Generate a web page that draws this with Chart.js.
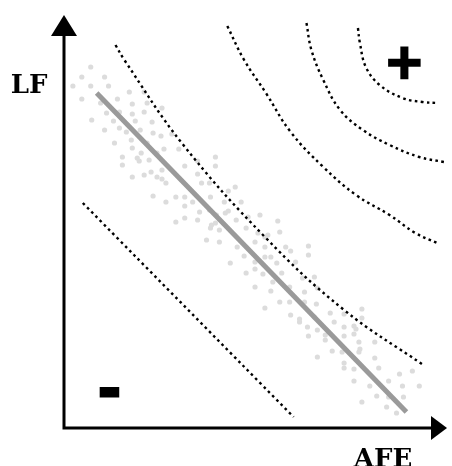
<!DOCTYPE html>
<html>
<head>
<meta charset="utf-8">
<script src="https://cdn.jsdelivr.net/npm/chart.js@4/dist/chart.umd.min.js"></script>
<style>
  body { margin: 0; background: #fff; }
  canvas { display: block; }
</style>
</head>
<body>
<canvas id="chart" width="452" height="466"></canvas>
<script>
// axis ranges (arbitrary units, origin at the axes corner)
const afeMax = 388;
const lfMax = 413;

// scattered observations
const pointAfe = [27, 18, 41, 9, 27, 45, 18, 37, 54, 66, 69, 81, 84, 99, 43, 56, 69, 81, 28, 50, 72, 89, 41, 56, 63, 77, 90, 98, 109, 51, 68, 84, 101, 116, 69, 78, 59, 74, 86, 76, 94, 59, 69, 81, 88, 99, 94,
  153, 122, 135, 153, 99, 103, 135, 139, 147, 166, 173, 90, 103, 113, 122, 130, 148, 162, 179, 122, 137, 147, 154, 166, 163, 198, 113, 122, 135, 149, 153, 148, 157, 174, 186, 184, 196, 144, 157, 175, 193, 203,
  216, 206, 218, 203, 224, 229, 247, 247, 182, 203, 209, 168, 193, 193, 215, 234, 220, 241, 253, 184, 201, 211, 193, 228, 209, 243, 256, 218, 228, 243, 255, 203, 229, 238, 238, 253, 269, 283, 273, 246, 256, 283, 247, 264,
  301, 301, 293, 295, 264, 283, 293, 298, 314, 271, 281, 299, 298, 256, 314, 283, 283, 293, 318, 339, 352, 293, 309, 328, 342, 359, 316, 328, 343, 301, 326, 336];
const pointLf = [361, 351, 351, 342, 342, 342, 329, 325, 329, 336, 324, 336, 325, 320, 315, 316, 314, 316, 308, 307, 307, 306, 298, 300, 296, 298, 295, 292, 294, 285, 288, 285, 279, 279, 280, 275, 271, 270, 268, 267, 275, 263, 251, 253, 256, 258, 251,
  271, 262, 267, 262, 249, 245, 254, 245, 245, 237, 241, 232, 226, 231, 231, 226, 231, 226, 226, 222, 216, 218, 213, 217, 215, 213, 206, 210, 208, 203, 205, 200, 198, 208, 211, 200, 195, 188, 186, 181, 186, 191,
  207, 193, 196, 181, 181, 177, 182, 173, 172, 171, 171, 165, 166, 159, 165, 166, 155, 150, 151, 155, 154, 146, 141, 141, 137, 136, 140, 126, 126, 126, 124, 120, 113, 109, 106, 111, 115, 114, 106, 101, 98, 101, 92, 93,
  119, 110, 102, 99, 88, 92, 94, 86, 86, 77, 76, 79, 76, 71, 70, 65, 60, 59, 60, 54, 57, 47, 42, 47, 42, 42, 32, 31, 31, 26, 21, 15];

// fitted trend
const fitAfe = [33, 346];
const fitLf = [335, 16];

// dotted iso-lines, from lowest to highest
const iso1Afe = [19, 232];
const iso1Lf = [225, 11];
const iso2Afe = [52, 61, 119, 203, 283, 363];
const iso2Lf = [383, 368, 285, 191, 118, 63];
const iso3Afe = [165, 182, 204, 229, 262, 295, 329, 355, 377];
const iso3Lf = [402, 368, 335, 296, 261, 233, 213, 195, 185];
const iso4Afe = [245, 250, 262, 279, 302, 329, 359, 384];
const iso4Lf = [405, 378, 348, 318, 298, 283, 271, 266];
const iso5Afe = [297, 299, 305, 319, 342, 362, 377];
const iso5Lf = [400, 385, 361, 343, 330, 326, 325];

// region markers
const plusPos = [344, 362];
const minusPos = [46, 34];

const titleFont = 'bold 26px "DejaVu Serif", serif';

function toPoints(xs, ys) {
  return xs.map((x, i) => ({ x: x, y: ys[i] }));
}

function isoLine(xs, ys) {
  return {
    data: toPoints(xs, ys),
    showLine: true,
    borderColor: '#000',
    borderWidth: 2.4,
    borderDash: [2.6, 3.4],
    borderCapStyle: 'butt',
    tension: 0.4,
    pointRadius: 0,
    order: 2
  };
}

function drawArrow(ctx, tipX, tipY, dir) {
  ctx.beginPath();
  if (dir === 'up') {
    ctx.moveTo(tipX, tipY);
    ctx.lineTo(tipX - 13, tipY + 21);
    ctx.lineTo(tipX + 13, tipY + 21);
  } else {
    ctx.moveTo(tipX, tipY);
    ctx.lineTo(tipX - 16, tipY - 12);
    ctx.lineTo(tipX - 16, tipY + 12);
  }
  ctx.closePath();
  ctx.fill();
}

const axesPlugin = {
  id: 'axesPlugin',
  afterDatasetsDraw(chart) {
    const { ctx, scales } = chart;
    const x0 = scales.x.getPixelForValue(0);
    const y0 = scales.y.getPixelForValue(0);
    const xEnd = scales.x.getPixelForValue(afeMax);
    const yEnd = scales.y.getPixelForValue(lfMax);

    ctx.save();
    ctx.strokeStyle = '#000';
    ctx.fillStyle = '#000';
    ctx.lineWidth = 3;
    ctx.beginPath();
    ctx.moveTo(x0, yEnd + 20);
    ctx.lineTo(x0, y0);
    ctx.lineTo(xEnd - 15, y0);
    ctx.stroke();
    drawArrow(ctx, x0, yEnd, 'up');
    drawArrow(ctx, xEnd - 1, y0, 'right');

    // axis titles
    ctx.font = titleFont;
    ctx.textAlign = 'center';
    ctx.textBaseline = 'alphabetic';
    ctx.fillText('LF', x0 - 35, yEnd + 78);
    ctx.fillText('AFE', xEnd - 65, y0 + 39);

    // plus / minus markers
    ctx.textBaseline = 'middle';
    ctx.lineWidth = 2.5;
    ctx.font = 'bold 48px "DejaVu Sans", sans-serif';
    const px = scales.x.getPixelForValue(plusPos[0]);
    const py = scales.y.getPixelForValue(plusPos[1]);
    ctx.fillText('+', px, py);
    ctx.strokeText('+', px, py);
    ctx.lineWidth = 3;
    ctx.font = 'bold 54px "DejaVu Sans", sans-serif';
    const mx = scales.x.getPixelForValue(minusPos[0]);
    const my = scales.y.getPixelForValue(minusPos[1]);
    ctx.fillText('-', mx, my);
    ctx.strokeText('-', mx, my);
    ctx.restore();
  }
};

const chart = new Chart(document.getElementById('chart'), {
  type: 'scatter',
  data: {
    datasets: [
      {
        data: toPoints(pointAfe, pointLf),
        backgroundColor: '#dcdcdc',
        borderWidth: 0,
        pointRadius: 2.6,
        order: 3
      },
      {
        data: toPoints(fitAfe, fitLf),
        showLine: true,
        borderColor: '#9a9a9a',
        borderWidth: 5,
        borderCapStyle: 'butt',
        pointRadius: 0,
        order: 1
      },
      isoLine(iso1Afe, iso1Lf),
      isoLine(iso2Afe, iso2Lf),
      isoLine(iso3Afe, iso3Lf),
      isoLine(iso4Afe, iso4Lf),
      isoLine(iso5Afe, iso5Lf)
    ]
  },
  options: {
    responsive: false,
    animation: false,
    layout: { padding: { left: 64, right: 0, top: 15, bottom: 38 } },
    scales: {
      x: { type: 'linear', display: false, min: 0, max: afeMax },
      y: { type: 'linear', display: false, min: 0, max: lfMax }
    },
    plugins: {
      legend: { display: false },
      tooltip: { enabled: false }
    }
  },
  plugins: [axesPlugin]
});

// redraw once the title font is available
document.fonts.load(titleFont).then(() => chart.draw());
</script>
</body>
</html>
